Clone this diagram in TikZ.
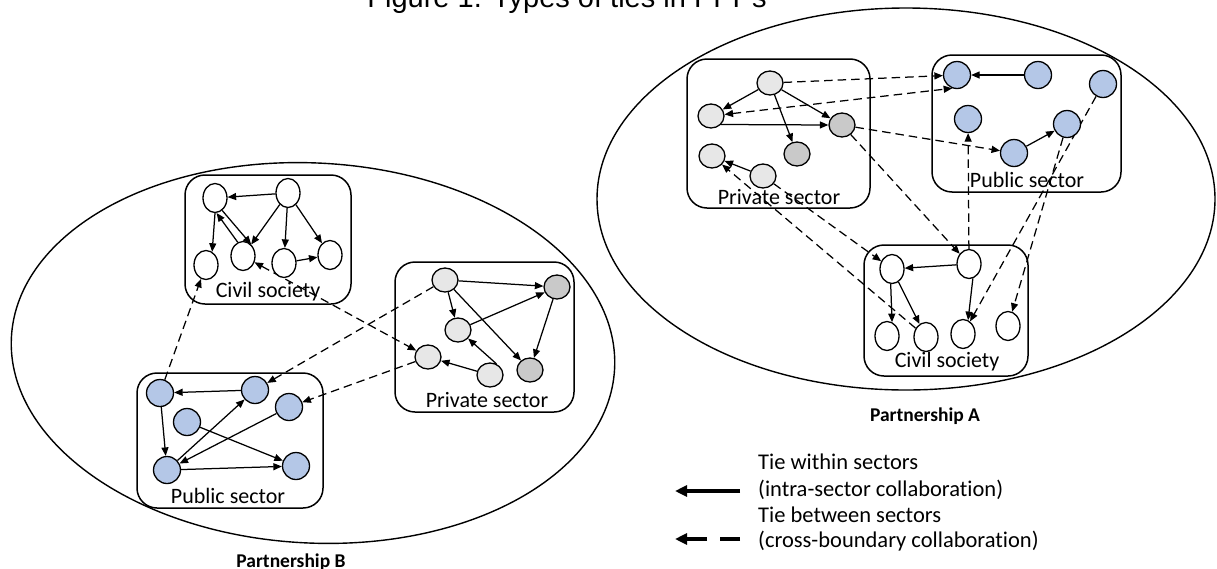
\documentclass[tikz,border=0pt]{standalone}
\usepackage{fontspec}
\setmainfont{Carlito}[Ligatures={NoCommon}]
\newfontfamily\titlefont{Liberation Sans}
\usetikzlibrary{shapes.geometric,arrows.meta}
\definecolor{privlight}{RGB}{231,231,231}
\definecolor{privdark}{RGB}{201,201,201}
\definecolor{pubblue}{RGB}{180,199,231}
\pgfdeclarelayer{frames}
\pgfdeclarelayer{ties}
\pgfsetlayers{frames,ties,main}
\tikzset{
  tiehead/.tip={Triangle[length=8.5pt,width=7pt]},
  actor/.style={ellipse, draw, line width=1.3pt, inner sep=0pt},
  civ/.style={actor, fill=white, minimum width=24pt, minimum height=29pt},
  prl/.style={actor, fill=privlight, minimum width=26pt, minimum height=24pt},
  prd/.style={actor, fill=privdark, minimum width=26pt, minimum height=24pt},
  pub/.style={actor, fill=pubblue, minimum width=27pt, minimum height=27pt},
  within/.style={-tiehead, line width=1.25pt},
  between/.style={within, dash pattern=on 8.5pt off 5pt},
  twoway/.style={between, tiehead-tiehead},
  sectorbox/.style={draw, line width=1.5pt, rounded corners=20pt},
  partner/.style={draw, line width=1.4pt},
  seclabel/.style={anchor=base, inner sep=0pt, font=\fontsize{22}{24}\selectfont},
  partlabel/.style={anchor=base, inner sep=0pt, font=\bfseries\fontsize{19.5}{22}\selectfont},
  legtext/.style={anchor=base west, inner sep=0pt, font=\fontsize{22.5}{26}\selectfont},
  legline/.style={line width=3.5pt, -{Triangle[length=12pt,width=11pt]}},
}
\begin{document}
\begin{tikzpicture}[x=1pt,y=-1pt]
\useasboundingbox (0,0) rectangle (1217,568);
\clip (0,0) rectangle (1217,568);

% title
\node[anchor=base, inner sep=0pt, font=\titlefont\fontsize{29}{34}\selectfont] (title) at (567,7) {Figure 1. Types of ties in PPPs};

% partnerships and sector frames
\begin{pgfonlayer}{frames}
  \draw[partner, rotate around={-3:(313,353)}] (313,353) ellipse [x radius=302, y radius=190];
  \draw[partner] (906,199) ellipse [x radius=309, y radius=191];
  % Partnership B
  \draw[sectorbox] (185,175) rectangle (351,304);
  \draw[sectorbox] (395,262) rectangle (574,412);
  \draw[sectorbox] (137,373) rectangle (323,508);
  % Partnership A
  \draw[sectorbox] (687,59) rectangle (870,208);
  \draw[sectorbox] (932,55) rectangle (1121,192);
  \draw[sectorbox] (864,245) rectangle (1028,376);
\end{pgfonlayer}

% ---------- Partnership B ----------
% civil society
\node[civ] (cb1) at (215,198) {};
\node[civ] (cb2) at (288,193) {};
\node[civ] (cb3) at (206,265) {};
\node[civ] (cb4) at (243,256) {};
\node[civ] (cb5) at (284,263) {};
\node[civ] (cb6) at (330,255) {};
\node[seclabel] (cblab) at (268,297) {Civil society};
% private sector
\node[prl] (pb1) at (445,280) {};
\node[prd] (pb2) at (557,287) {};
\node[prl] (pb3) at (458,330) {};
\node[prl] (pb4) at (428,357) {};
\node[prl] (pb5) at (490,375) {};
\node[prd] (pb6) at (530,370) {};
\node[seclabel] (pblab) at (487,407) {Private sector};
% public sector
\node[pub] (ub1) at (160,393) {};
\node[pub] (ub2) at (255,390) {};
\node[pub] (ub3) at (289,407) {};
\node[pub] (ub4) at (187,422) {};
\node[pub] (ub5) at (167,470) {};
\node[pub] (ub6) at (296,466) {};
\node[seclabel] (ublab) at (228,503) {Public sector};
\node[partlabel] (partB) at (291,567) {Partnership B};

% ---------- Partnership A ----------
% private sector
\node[prl] (pa1) at (770,83) {};
\node[prl] (pa2) at (711,116) {};
\node[prd] (pa3) at (842,125) {};
\node[prd] (pa4) at (797,154) {};
\node[prl] (pa5) at (712,156) {};
\node[prl] (pa6) at (763,176) {};
\node[seclabel] (palab) at (779,204) {Private sector};
% public sector
\node[pub] (ua1) at (957,75) {};
\node[pub] (ua2) at (1038,75) {};
\node[pub] (ua3) at (1103,84) {};
\node[pub] (ua4) at (968,119) {};
\node[pub] (ua5) at (1067,124) {};
\node[pub] (ua6) at (1014,153) {};
\node[seclabel] (ualab) at (1027,187) {Public sector};
% civil society
\node[civ] (ca1) at (892,269) {};
\node[civ] (ca2) at (969,264) {};
\node[civ] (ca3) at (887,336) {};
\node[civ] (ca4) at (926,337) {};
\node[civ] (ca5) at (963,334) {};
\node[civ] (ca6) at (1008,326) {};
\node[seclabel] (calab) at (947,367) {Civil society};
\node[partlabel] (partA) at (925,421) {Partnership A};

% ---------- ties ----------
\begin{pgfonlayer}{ties}
  % B: within civil society
  \draw[within] (cb2) -- (cb1);
  \draw[within] (cb1.-90) -- (cb3.65);
  \draw[within] (cb1.-60) -- (cb4.55);
  \draw[within] (cb4.111) -- (cb1.-84);
  \draw[within] (cb2) -- (cb4);
  \draw[within] (cb2) -- (cb5);
  \draw[within] (cb2) -- (cb6);
  \draw[within] (cb5) -- (cb6);
  % B: within private sector
  \draw[within] (pb1) -- (pb2);
  \draw[within] (pb1) -- (pb3);
  \draw[within] (pb1) -- (pb6);
  \draw[within] (pb3) -- (pb2);
  \draw[within] (pb2) -- (pb6);
  \draw[within] (pb5.60) -- (pb3.-40);
  \draw[within] (pb5) -- (pb4);
  % B: within public sector
  \draw[within] (ub2) -- (ub1);
  \draw[within] (ub1) -- (ub5);
  \draw[within] (ub5) -- (ub2);
  \draw[within] (ub3) -- (ub5);
  \draw[within] (ub4) -- (ub6);
  \draw[within] (ub5) -- (ub6);
  % B: across sectors
  \draw[between] (ub1) -- (cb3);
  \draw[twoway] (cb4) -- (pb4);
  \draw[between] (pb1) -- (ub2);
  \draw[between] (pb4) -- (ub3);

  % A: within private sector
  \draw[within] (pa1) -- (pa2);
  \draw[within] (pa1) -- (pa3);
  \draw[within] (pa1) -- (pa4);
  \draw[within] (pa2.-40) -- (pa3.west);
  \draw[within] (pa6) -- (pa5);
  % A: within public sector
  \draw[within] (ua2) -- (ua1);
  \draw[within] (ua6) -- (ua5);
  % A: within civil society
  \draw[within] (ca2) -- (ca1);
  \draw[within] (ca1.-95) -- (ca3.70);
  \draw[within] (ca1) -- (ca4);
  \draw[within] (ca2.-75) -- (ca5.70);
  % A: across sectors
  \draw[between] (pa1) -- (ua1);
  \draw[twoway] (pa2) -- (ua1.-110);
  \draw[between] (pa3) -- (ua6);
  \draw[between] (pa3) -- (ca2);
  \draw[between] (pa6) -- (ca1);
  \draw[between] (ca4) -- (pa5);
  \draw[between] (ca2) -- (ua4);
  \draw[between] (ua3) -- (ca5);
  \draw[between] (ua5) -- (ca6);
\end{pgfonlayer}

% ---------- legend ----------
\coordinate (solidR) at (740,491);
\coordinate (solidL) at (675,491);
\coordinate (dashR) at (740,539);
\coordinate (dashL) at (675,539);
\draw[legline] (solidR) -- (solidL);
\draw[legline, dash pattern=on 20pt off 13pt] (dashR) -- (dashL);
\node[legtext] (leg1) at (758,469) {Tie within sectors};
\node[legtext] (leg2) at (758,496) {(intra-sector collaboration)};
\node[legtext] (leg3) at (758,522) {Tie between sectors};
\node[legtext] (leg4) at (758,547) {(cross-boundary collaboration)};
\end{tikzpicture}
\end{document}
